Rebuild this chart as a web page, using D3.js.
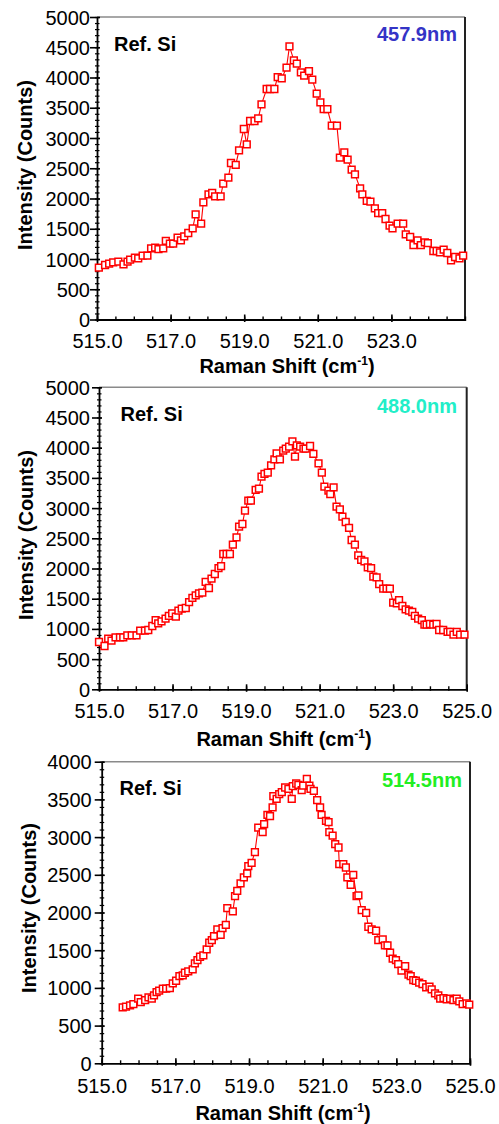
<!DOCTYPE html><meta charset="utf-8">
<style>
*{margin:0}
body{background:#fff}
svg text{font-family:"Liberation Sans",Arial,Helvetica,sans-serif;fill:#000}
</style>
<svg width="499" height="1124"></svg>
<script src="https://d3js.org/d3.v7.min.js"></script>
<script>
// Raman shift (cm-1) and intensity (counts)
const shift457 = [515.05,515.22,515.33,515.44,515.58,515.72,515.83,515.90,516.03,516.12,
  516.24,516.37,516.47,516.58,516.67,516.80,516.87,516.98,517.07,517.19,
  517.28,517.37,517.48,517.60,517.68,517.83,517.89,518.03,518.13,518.21,
  518.36,518.43,518.57,518.64,518.77,518.86,518.99,519.07,519.16,519.28,
  519.38,519.47,519.61,519.70,519.82,519.91,520.02,520.15,520.23,520.35,
  520.43,520.54,520.63,520.76,520.85,520.97,521.07,521.16,521.26,521.38,
  521.52,521.60,521.72,521.81,521.92,522.01,522.15,522.21,522.33,522.43,
  522.55,522.64,522.75,522.84,522.95,523.03,523.17,523.32,523.39,523.51,
  523.60,523.71,523.80,523.91,523.99,524.14,524.23,524.32,524.42,524.52,
  524.62,524.73,524.85,524.95];
const counts457 = [857,901,923,945,956,912,956,989,1022,1011,
  1055,1055,1176,1187,1165,1176,1298,1253,1253,1353,
  1309,1375,1430,1507,1738,1584,1937,2069,2091,2036,
  2036,2245,2344,2587,2554,2796,3149,2895,3281,3281,
  3325,3557,3810,3810,3810,4008,3986,4163,4515,4284,
  4229,4085,4030,4107,3964,3733,3590,3479,3479,3204,
  3204,2675,2763,2642,2477,2399,2168,2069,1959,1948,
  1837,1760,1760,1661,1551,1507,1584,1584,1408,1364,
  1231,1309,1231,1275,1264,1132,1132,1110,1154,1099,
  978,1033,1011,1055];

const shift488 = [515.00,515.15,515.25,515.34,515.45,515.57,515.66,515.77,515.89,516.02,
  516.12,516.25,516.34,516.45,516.54,516.61,516.70,516.81,516.90,516.99,
  517.09,517.16,517.25,517.36,517.45,517.54,517.63,517.72,517.81,517.90,
  517.99,518.06,518.15,518.25,518.32,518.38,518.47,518.56,518.64,518.74,
  518.81,518.90,518.97,519.06,519.13,519.26,519.35,519.42,519.50,519.59,
  519.68,519.77,519.83,519.92,520.01,520.08,520.17,520.26,520.33,520.38,
  520.47,520.56,520.62,520.74,520.83,520.97,521.06,521.13,521.24,521.29,
  521.38,521.46,521.55,521.62,521.71,521.80,521.87,521.96,522.05,522.13,
  522.22,522.31,522.40,522.46,522.55,522.62,522.73,522.82,522.91,523.00,
  523.10,523.16,523.25,523.34,523.43,523.52,523.59,523.68,523.78,523.85,
  523.91,524.00,524.09,524.18,524.25,524.36,524.48,524.55,524.64,524.73,
  524.82,524.94];
const counts488 = [783,717,838,805,860,860,860,894,894,894,
  971,971,982,1048,1147,1092,1125,1169,1214,1258,
  1203,1302,1335,1346,1445,1512,1556,1589,1600,1777,
  1677,1832,1909,2008,2041,2240,2240,2240,2395,2516,
  2693,2737,2957,3123,3123,3300,3322,3520,3565,3587,
  3708,3807,3907,3807,3951,3984,4017,4105,3851,4039,
  4017,3984,3984,4028,3896,3741,3587,3355,3289,3233,
  3344,3024,2980,2858,2770,2671,2472,2395,2218,2141,
  2119,2019,2008,1865,1854,1743,1666,1666,1666,1434,
  1423,1478,1379,1324,1302,1280,1214,1169,1147,1070,
  1070,1081,1070,1081,982,982,949,949,904,949,
  904,904];

const shift514 = [515.57,515.66,515.77,515.86,515.99,516.06,516.18,516.27,516.36,516.42,
  516.49,516.56,516.66,516.75,516.85,516.93,517.02,517.11,517.20,517.26,
  517.35,517.47,517.53,517.60,517.67,517.76,517.85,517.92,517.99,518.05,
  518.14,518.23,518.28,518.37,518.41,518.56,518.62,518.68,518.77,518.86,
  518.95,518.98,519.07,519.16,519.25,519.37,519.41,519.50,519.57,519.64,
  519.66,519.75,519.82,519.89,519.98,520.07,520.16,520.19,520.28,520.34,
  520.43,520.47,520.57,520.64,520.67,520.76,520.85,520.93,520.97,521.09,
  521.16,521.18,521.27,521.34,521.43,521.45,521.56,521.63,521.67,521.76,
  521.83,521.92,521.97,522.06,522.18,522.24,522.33,522.45,522.51,522.63,
  522.69,522.76,522.83,522.90,522.99,523.05,523.14,523.24,523.33,523.39,
  523.46,523.53,523.62,523.71,523.81,523.90,523.96,524.05,524.14,524.19,
  524.28,524.37,524.46,524.55,524.64,524.71,524.80,524.91,524.98];
const counts514 = [742,751,768,786,857,812,839,874,857,901,
  945,963,989,989,998,1060,1095,1157,1166,1201,
  1219,1245,1325,1369,1413,1431,1511,1599,1634,1687,
  1776,1705,1793,1837,2058,2014,2217,2288,2385,2465,
  2518,2615,2659,2801,3127,3066,3172,3295,3278,3393,
  3543,3507,3569,3596,3658,3640,3507,3675,3711,3693,
  3622,3684,3772,3684,3640,3613,3490,3393,3295,3216,
  3198,3066,3021,2907,2862,2641,2641,2597,2465,2368,
  2500,2217,2226,2032,1996,1811,1776,1758,1634,1643,
  1564,1564,1466,1387,1369,1316,1228,1290,1175,1157,
  1104,1095,1069,1051,1007,1016,980,927,901,857,
  865,848,857,839,857,821,786,795,777];

// tick labels
const xTicksTop = [515, 517, 519, 521, 523];
const xTicksFull = [515, 517, 519, 521, 523, 525];
const yTicks5000 = [0,500,1000,1500,2000,2500,3000,3500,4000,4500,5000];
const yTicks4000 = [0,500,1000,1500,2000,2500,3000,3500,4000];
const lasers = ["457.9nm", "488.0nm", "514.5nm"];
const sample = "Ref. Si";

// layout per panel: plot box [left, top, right, bottom] and text anchors
const panels = [
  {shift:shift457, counts:counts457, laser:lasers[0], color:"#3434c6", yMax:5000, yTicks:yTicks5000, xTicks:xTicksTop,
   box:[97,17,465,319.5], ref:[114,51], lab:[457,41], xLabY:348, xTitle:[287,373], yTitle:[32,165], yPad:0},
  {shift:shift488, counts:counts488, laser:lasers[1], color:"#22eec8", yMax:5000, yTicks:yTicks5000, xTicks:xTicksFull,
   box:[99,387.3,466.7,689.3], ref:[120.5,421], lab:[457,413], xLabY:718, xTitle:[284,746], yTitle:[33,535], yPad:2},
  {shift:shift514, counts:counts514, laser:lasers[2], color:"#22ee22", yMax:4000, yTicks:yTicks4000, xTicks:xTicksFull,
   box:[101.7,761.7,470,1063.3], ref:[119.5,795], lab:[462,787], xLabY:1093, xTitle:[283,1120], yTitle:[36,908], yPad:3}
];

const svg = d3.select("svg");
const fmtX = d3.format(".1f"), fmtY = d3.format("d");

panels.forEach(p => {
  const [l, t, r, b] = p.box;
  const x = d3.scaleLinear().domain([515, 525]).range([l, r]);
  const y = d3.scaleLinear().domain([0, p.yMax]).range([b, t]);
  const g = svg.append("g");

  // frame: grey top, dark right
  g.append("line").attr("x1", l).attr("x2", r).attr("y1", t).attr("y2", t)
   .attr("stroke", "#8a8a8a").attr("stroke-width", 1.6);
  g.append("line").attr("x1", r).attr("x2", r).attr("y1", t).attr("y2", b)
   .attr("stroke", "#222").attr("stroke-width", 2);

  // minor ticks
  const xm = g.append("g").attr("transform", `translate(0,${b})`)
    .call(d3.axisBottom(x).tickValues(d3.range(515, 525.01, 0.5)).tickFormat("").tickSizeOuter(0));
  xm.select(".domain").remove();
  xm.selectAll("line").attr("y1", -3).attr("y2", 1.5).attr("stroke", "#000").attr("stroke-width", 1.4);

  const ym = g.append("g").attr("transform", `translate(${l},0)`)
    .call(d3.axisLeft(y).tickValues(d3.range(0, p.yMax + 1, 100)).tickFormat("").tickSizeOuter(0));
  ym.select(".domain").remove();
  ym.selectAll("line").attr("x1", 2.5).attr("x2", -2).attr("stroke", "#000").attr("stroke-width", 1.2);

  // major axes
  const xa = g.append("g").attr("transform", `translate(0,${b})`)
    .call(d3.axisBottom(x).tickValues(p.xTicks).tickFormat(fmtX).tickSizeOuter(0));
  xa.select(".domain").attr("stroke", "#000").attr("stroke-width", 1.8);
  xa.selectAll("line").attr("y1", -5).attr("y2", 2.5).attr("stroke", "#000").attr("stroke-width", 1.6);
  xa.selectAll("text").attr("y", p.xLabY - b).attr("dy", 0)
    .attr("font-size", 20).attr("fill", "#000");

  const ya = g.append("g").attr("transform", `translate(${l},0)`)
    .call(d3.axisLeft(y).tickValues(p.yTicks).tickFormat(fmtY).tickSize(7).tickPadding(p.yPad).tickSizeOuter(0));
  ya.select(".domain").attr("stroke", "#000").attr("stroke-width", 1.8);
  ya.selectAll("line").attr("x1", 3).attr("stroke", "#000").attr("stroke-width", 1.6);
  ya.selectAll("text").attr("dy", "0.35em")
    .attr("font-size", 20).attr("fill", "#000");
  [xa, ya, xm, ym].forEach(a => a.attr("font-family", null).attr("font-size", null));

  // titles
  const xt = g.append("text").attr("x", p.xTitle[0]).attr("y", p.xTitle[1])
    .attr("text-anchor", "middle").attr("font-size", 20).attr("font-weight", "bold");
  xt.append("tspan").text("Raman Shift (cm");
  xt.append("tspan").attr("font-size", 12).attr("dy", -8).text("-1");
  xt.append("tspan").attr("dy", 8).text(")");

  g.append("text").attr("transform", `translate(${p.yTitle[0]},${p.yTitle[1]}) rotate(-90)`)
    .attr("text-anchor", "middle").attr("font-size", 20).attr("font-weight", "bold")
    .text("Intensity (Counts)");

  g.append("text").attr("x", p.ref[0]).attr("y", p.ref[1])
    .attr("font-size", 20).attr("font-weight", "bold").text(sample);
  g.append("text").attr("x", p.lab[0]).attr("y", p.lab[1]).attr("text-anchor", "end")
    .attr("font-size", 20).attr("font-weight", "bold").style("fill", p.color).text(p.laser);

  // spectrum
  const pts = p.shift.map((s, i) => [s, p.counts[i]]);
  g.append("path").datum(pts)
    .attr("fill", "none").attr("stroke", "#ff0000").attr("stroke-width", 1.1)
    .attr("d", d3.line().x(d => x(d[0])).y(d => y(d[1])));
  g.append("g").selectAll("path").data(pts).join("path")
    .attr("transform", d => `translate(${x(d[0])},${y(d[1])})`)
    .attr("d", d3.symbol(d3.symbolSquare, 46))
    .attr("fill", "#fff").attr("stroke", "#ff0000").attr("stroke-width", 1.5);
});
</script>
